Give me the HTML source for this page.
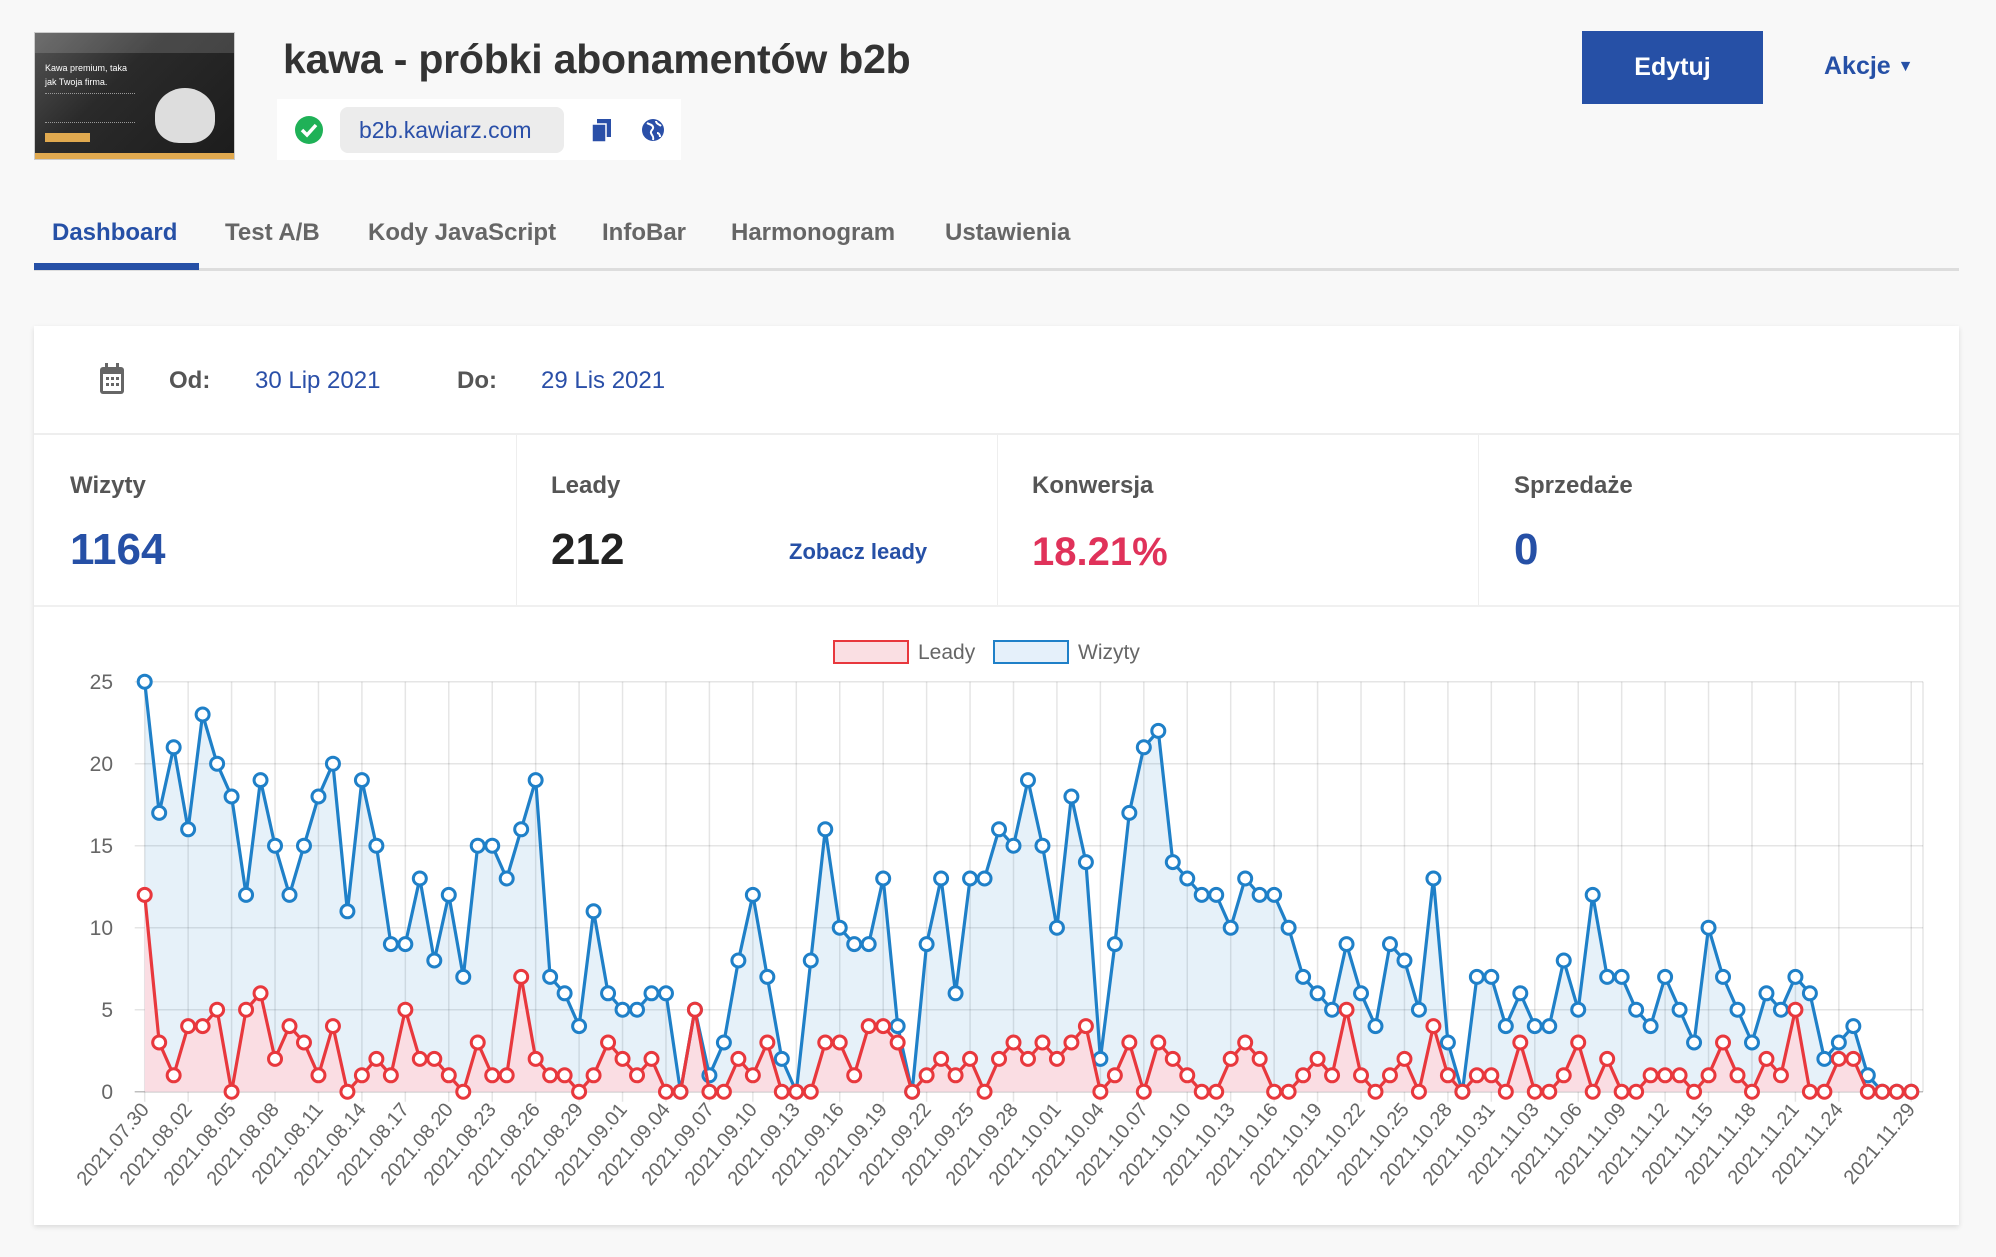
<!DOCTYPE html>
<html><head><meta charset="utf-8">
<style>
*{margin:0;padding:0;box-sizing:border-box}
body{width:1996px;height:1257px;background:#f8f8f8;font-family:"Liberation Sans",sans-serif;position:relative;overflow:hidden}
.abs{position:absolute}
.thumb{left:34px;top:32px;width:201px;height:128px;background:linear-gradient(135deg,#555 0%,#2a2a2a 40%,#1c1c1c 100%);border:1px solid #ccc;overflow:hidden}
.title{left:283px;top:36px;font-size:41px;color:#333;font-weight:bold;letter-spacing:-0.2px}
.urlbox{left:277px;top:99px;width:404px;height:61px;background:#fff}
.pill{left:63px;top:8px;width:224px;height:46px;background:#ececec;border-radius:8px;color:#2a4fa8;font-size:23px;line-height:46px;padding-left:19px}
.btn{left:1582px;top:31px;width:181px;height:73px;background:#2650a6;color:#fff;font-weight:bold;font-size:25px;text-align:center;line-height:73px}
.akcje{left:1824px;top:52px;color:#2650a6;font-size:25px;font-weight:bold}
.tab{top:219px;font-size:24px;color:#666;font-weight:bold}
.card{left:34px;top:326px;width:1925px;height:899px;background:#fff;box-shadow:0 2px 5px rgba(0,0,0,0.12)}
.lbl{font-size:24px;color:#555;font-weight:bold}
.val{font-size:44px;font-weight:bold}
</style></head><body>
<div class="abs thumb">
 <div class="abs" style="left:0;top:0;width:201px;height:20px;background:rgba(255,255,255,0.15)"></div>
 <div class="abs" style="left:10px;top:28px;color:#fff;font-size:9px;line-height:14px">Kawa premium, taka<br>jak Twoja firma.</div>
 <div class="abs" style="left:10px;top:60px;width:90px;height:30px;border-top:1px dotted #999;border-bottom:1px dotted #999"></div>
 <div class="abs" style="left:120px;top:55px;width:60px;height:55px;background:#ddd;border-radius:50% 50% 40% 40%"></div>
 <div class="abs" style="left:10px;top:100px;width:45px;height:9px;background:#e0a94f"></div>
 <div class="abs" style="left:0;top:120px;width:201px;height:8px;background:#e0a94f"></div>
</div>
<div class="abs title">kawa - próbki abonamentów b2b</div>
<div class="abs urlbox">
 <svg class="abs" style="left:18px;top:17px" width="28" height="28"><circle cx="14" cy="14" r="14" fill="#1fb157"/><path d="M7 14l5 5 9-10" stroke="#fff" stroke-width="3.5" fill="none"/></svg>
 <div class="abs pill">b2b.kawiarz.com</div>
 <svg class="abs" style="left:314px;top:20px" width="22" height="24"><rect x="6" y="0" width="14" height="18" fill="#2a4fa8"/><rect x="1" y="5" width="14" height="18" fill="#2a4fa8" stroke="#fff" stroke-width="1.5"/></svg>
 <svg class="abs" style="left:364px;top:19px" width="24" height="24"><circle cx="12" cy="12" r="11" fill="#2a4fa8"/><path d="M6 5c3 2 5 1 6 4s-3 3-2 6 3 3 2 7M15 3c0 3 3 3 5 5M16 15c2 0 3 2 3 4" stroke="#fff" stroke-width="2" fill="none"/></svg>
</div>
<div class="abs btn">Edytuj</div>
<div class="abs akcje">Akcje <span style="font-size:16px;position:relative;top:-3px">▼</span></div>
<div class="abs tab" style="left:52px;color:#2650a6">Dashboard</div>
<div class="abs tab" style="left:225px">Test A/B</div>
<div class="abs tab" style="left:368px">Kody JavaScript</div>
<div class="abs tab" style="left:602px">InfoBar</div>
<div class="abs tab" style="left:731px">Harmonogram</div>
<div class="abs tab" style="left:945px">Ustawienia</div>
<div class="abs" style="left:34px;top:268px;width:1925px;height:3px;background:#ddd"></div>
<div class="abs" style="left:34px;top:263px;width:165px;height:7px;background:#2650a6"></div>

<div class="abs card">
 <svg class="abs" style="left:64px;top:36px" width="28" height="34"><rect x="2" y="5" width="24" height="27" rx="3" fill="#666"/><rect x="5" y="12" width="18" height="17" fill="#fff"/><rect x="7" y="1" width="3" height="7" fill="#666"/><rect x="18" y="1" width="3" height="7" fill="#666"/><g fill="#666"><rect x="8" y="15" width="3" height="3"/><rect x="13" y="15" width="3" height="3"/><rect x="18" y="15" width="3" height="3"/><rect x="8" y="21" width="3" height="3"/><rect x="13" y="21" width="3" height="3"/><rect x="18" y="21" width="3" height="3"/></g></svg>
 <div class="abs lbl" style="left:135px;top:41px">Od:</div>
 <div class="abs" style="left:221px;top:41px;font-size:24px;color:#2a4fa8">30 Lip 2021</div>
 <div class="abs lbl" style="left:423px;top:41px">Do:</div>
 <div class="abs" style="left:507px;top:41px;font-size:24px;color:#2a4fa8">29 Lis 2021</div>
 <div class="abs" style="left:0;top:107px;width:1925px;height:2px;background:#eee"></div>
 <div class="abs" style="left:482px;top:109px;width:1px;height:170px;background:#eee"></div>
 <div class="abs" style="left:963px;top:109px;width:1px;height:170px;background:#eee"></div>
 <div class="abs" style="left:1444px;top:109px;width:1px;height:170px;background:#eee"></div>
 <div class="abs lbl" style="left:36px;top:146px">Wizyty</div>
 <div class="abs lbl" style="left:517px;top:146px">Leady</div>
 <div class="abs lbl" style="left:998px;top:146px">Konwersja</div>
 <div class="abs lbl" style="left:1480px;top:146px">Sprzedaże</div>
 <div class="abs val" style="left:36px;top:199px;color:#2650a6">1164</div>
 <div class="abs val" style="left:517px;top:199px;color:#222">212</div>
 <div class="abs" style="left:755px;top:213px;font-size:22px;font-weight:bold;color:#2650a6">Zobacz leady</div>
 <div class="abs val" style="left:998px;top:204px;color:#e0325a;font-size:40px">18.21%</div>
 <div class="abs val" style="left:1480px;top:199px;color:#2650a6">0</div>
 <div class="abs" style="left:0;top:279px;width:1925px;height:2px;background:#f0f0f0"></div>
</div>

<svg class="abs" style="left:0;top:0" width="1996" height="1257" id="ch" font-family="Liberation Sans, sans-serif">
 <g id="grid" stroke="rgba(0,0,0,0.1)" stroke-width="1.5"></g>
 <g id="data"></g>
 <rect x="834" y="641" width="74" height="22" fill="#fadfe3" stroke="#e8383d" stroke-width="2"/>
 <text x="918" y="659" font-size="21" fill="#666">Leady</text>
 <rect x="994" y="641" width="74" height="22" fill="#e5f0fa" stroke="#1f80c8" stroke-width="2"/>
 <text x="1078" y="659" font-size="21" fill="#666">Wizyty</text>
 <g font-size="21" fill="#666" text-anchor="end">
  <text x="113" y="689">25</text><text x="113" y="771">20</text><text x="113" y="853">15</text>
  <text x="113" y="935">10</text><text x="113" y="1017">5</text><text x="113" y="1099">0</text>
 </g>
 <g font-size="20" fill="#666" text-anchor="end">
  <text transform="translate(150,1110) rotate(-50)">2021.07.30</text>
  <text transform="translate(193,1110) rotate(-50)">2021.08.02</text>
  <text transform="translate(237,1110) rotate(-50)">2021.08.05</text>
  <text transform="translate(280,1110) rotate(-50)">2021.08.08</text>
  <text transform="translate(324,1110) rotate(-50)">2021.08.11</text>
  <text transform="translate(367,1110) rotate(-50)">2021.08.14</text>
  <text transform="translate(410,1110) rotate(-50)">2021.08.17</text>
  <text transform="translate(454,1110) rotate(-50)">2021.08.20</text>
  <text transform="translate(497,1110) rotate(-50)">2021.08.23</text>
  <text transform="translate(541,1110) rotate(-50)">2021.08.26</text>
  <text transform="translate(584,1110) rotate(-50)">2021.08.29</text>
  <text transform="translate(628,1110) rotate(-50)">2021.09.01</text>
  <text transform="translate(671,1110) rotate(-50)">2021.09.04</text>
  <text transform="translate(715,1110) rotate(-50)">2021.09.07</text>
  <text transform="translate(758,1110) rotate(-50)">2021.09.10</text>
  <text transform="translate(801,1110) rotate(-50)">2021.09.13</text>
  <text transform="translate(845,1110) rotate(-50)">2021.09.16</text>
  <text transform="translate(888,1110) rotate(-50)">2021.09.19</text>
  <text transform="translate(932,1110) rotate(-50)">2021.09.22</text>
  <text transform="translate(975,1110) rotate(-50)">2021.09.25</text>
  <text transform="translate(1019,1110) rotate(-50)">2021.09.28</text>
  <text transform="translate(1062,1110) rotate(-50)">2021.10.01</text>
  <text transform="translate(1105,1110) rotate(-50)">2021.10.04</text>
  <text transform="translate(1149,1110) rotate(-50)">2021.10.07</text>
  <text transform="translate(1192,1110) rotate(-50)">2021.10.10</text>
  <text transform="translate(1236,1110) rotate(-50)">2021.10.13</text>
  <text transform="translate(1279,1110) rotate(-50)">2021.10.16</text>
  <text transform="translate(1323,1110) rotate(-50)">2021.10.19</text>
  <text transform="translate(1366,1110) rotate(-50)">2021.10.22</text>
  <text transform="translate(1410,1110) rotate(-50)">2021.10.25</text>
  <text transform="translate(1453,1110) rotate(-50)">2021.10.28</text>
  <text transform="translate(1496,1110) rotate(-50)">2021.10.31</text>
  <text transform="translate(1540,1110) rotate(-50)">2021.11.03</text>
  <text transform="translate(1583,1110) rotate(-50)">2021.11.06</text>
  <text transform="translate(1627,1110) rotate(-50)">2021.11.09</text>
  <text transform="translate(1670,1110) rotate(-50)">2021.11.12</text>
  <text transform="translate(1714,1110) rotate(-50)">2021.11.15</text>
  <text transform="translate(1757,1110) rotate(-50)">2021.11.18</text>
  <text transform="translate(1800,1110) rotate(-50)">2021.11.21</text>
  <text transform="translate(1844,1110) rotate(-50)">2021.11.24</text>
  <text transform="translate(1916,1110) rotate(-50)">2021.11.29</text>
 </g>
</svg>
<script>
(function(){
var B=[25,17,21,16,23,20,18,12,19,15,12,15,18,20,11,19,15,9,9,13,8,12,7,15,15,13,16,19,7,6,4,11,6,5,5,6,6,0,5,1,3,8,12,7,2,0,8,16,10,9,9,13,4,0,9,13,6,13,13,16,15,19,15,10,18,14,2,9,17,21,22,14,13,12,12,10,13,12,12,10,7,6,5,9,6,4,9,8,5,13,3,0,7,7,4,6,4,4,8,5,12,7,7,5,4,7,5,3,10,7,5,3,6,5,7,6,2,3,4,1,0,0,0];
var R=[12,3,1,4,4,5,0,5,6,2,4,3,1,4,0,1,2,1,5,2,2,1,0,3,1,1,7,2,1,1,0,1,3,2,1,2,0,0,5,0,0,2,1,3,0,0,0,3,3,1,4,4,3,0,1,2,1,2,0,2,3,2,3,2,3,4,0,1,3,0,3,2,1,0,0,2,3,2,0,0,1,2,1,5,1,0,1,2,0,4,1,0,1,1,0,3,0,0,1,3,0,2,0,0,1,1,1,0,1,3,1,0,2,1,5,0,0,2,2,0,0,0,0];
var x0=144.7,dx=14.48,y0=1091.7,dy=16.4,NS="http://www.w3.org/2000/svg";
function X(i){return x0+dx*i}function Y(v){return y0-dy*v}
function el(n,a,p){var e=document.createElementNS(NS,n);for(var k in a)e.setAttribute(k,a[k]);p.appendChild(e);return e}
var g=document.getElementById('grid');
for(var v=0;v<=25;v+=5)el('line',{x1:X(0)-10,x2:1923,y1:Y(v),y2:Y(v),stroke:v==0?'rgba(0,0,0,0.25)':'rgba(0,0,0,0.1)'},g);
var ticks=[];for(var i=0;i<=117;i+=3)ticks.push(i);ticks.push(122);
ticks.forEach(function(i){el('line',{x1:X(i),x2:X(i),y1:Y(25),y2:y0+10},g)});
el('line',{x1:1923,x2:1923,y1:Y(25),y2:y0},g);
var d=document.getElementById('data');
function series(arr,fill){
 var p=arr.map(function(v,i){return X(i).toFixed(1)+','+Y(v).toFixed(1)}).join(' ');
 el('polygon',{points:X(0)+','+y0+' '+p+' '+X(arr.length-1)+','+y0,fill:fill},d);
 return p;
}
var pb=series(B,'rgba(31,128,200,0.11)');
var pr=series(R,'#fadde3');
el('polyline',{points:pb,fill:'none',stroke:'#1f80c8','stroke-width':3.2,'stroke-linejoin':'round'},d);
B.forEach(function(v,i){el('circle',{cx:X(i),cy:Y(v),r:6.5,fill:'#fff',stroke:'#1f80c8','stroke-width':3},d)});
el('polyline',{points:pr,fill:'none',stroke:'#e8383d','stroke-width':3.2,'stroke-linejoin':'round'},d);
R.forEach(function(v,i){el('circle',{cx:X(i),cy:Y(v),r:6.5,fill:'#fff',stroke:'#e8383d','stroke-width':3},d)});
})();
</script>
</body></html>
